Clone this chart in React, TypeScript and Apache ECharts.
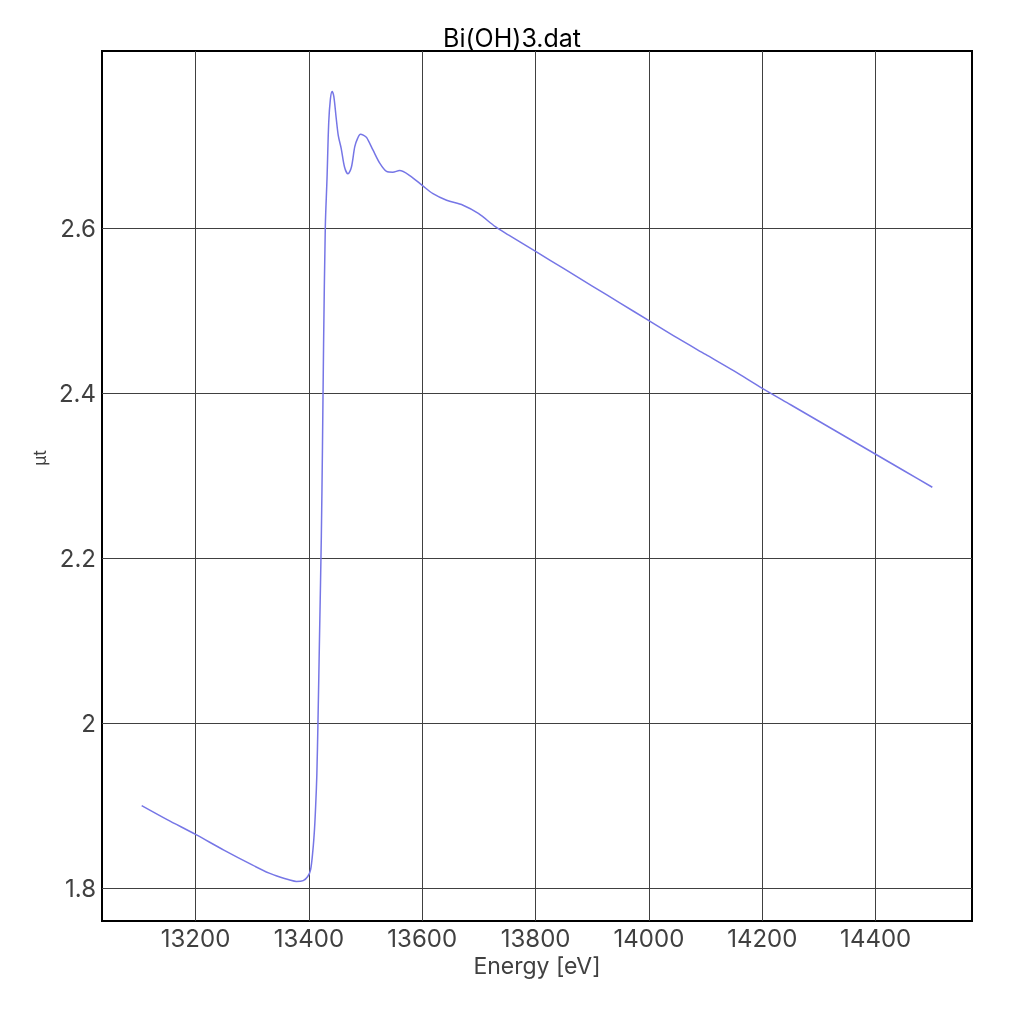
import { useRef, useEffect } from 'react';
import * as echarts from 'echarts';

// energy [eV] and absorption (μt)
const energy = [
    13105, 13150, 13200, 13250, 13300, 13330, 13350, 13365, 13378, 13390,
    13398, 13403, 13407, 13410, 13412, 13414, 13416, 13419, 13422, 13424,
    13426, 13429, 13432, 13435, 13438, 13441, 13444, 13448, 13452, 13457,
    13463, 13469, 13475, 13481, 13486, 13491, 13496, 13502, 13513, 13525,
    13537, 13548, 13560, 13578, 13600, 13619, 13643, 13672, 13699, 13729,
    13752, 13800, 13850, 13900, 13950, 14000, 14050, 14100, 14150, 14200,
    14250, 14300, 14350, 14400, 14450, 14500,
];
const mu = [
    1.900, 1.883, 1.865, 1.846, 1.828, 1.818, 1.813, 1.810, 1.808, 1.809,
    1.814, 1.822, 1.845, 1.872, 1.900, 1.936, 1.999, 2.113, 2.227, 2.335,
    2.462, 2.602, 2.660, 2.728, 2.757, 2.766, 2.760, 2.735, 2.712, 2.697,
    2.674, 2.666, 2.674, 2.699, 2.709, 2.714, 2.713, 2.710, 2.695, 2.679,
    2.669, 2.668, 2.670, 2.664, 2.652, 2.642, 2.634, 2.628, 2.618, 2.602,
    2.592, 2.572, 2.551, 2.530, 2.509, 2.488, 2.467, 2.447, 2.427, 2.406,
    2.386, 2.366, 2.346, 2.326, 2.306, 2.286,
];
const xTicks = [13200, 13400, 13600, 13800, 14000, 14200, 14400];
const yTicks = [1.8, 2.0, 2.2, 2.4, 2.6];

const XasChart = () => {
    const chartRef = useRef<HTMLDivElement>(null);

    useEffect(() => {
        if (!chartRef.current) return;
        const chart = echarts.init(chartRef.current, null, { renderer: 'svg' });
        const font = 'Inter';
        const options = {
            animation: false,
            textStyle: { fontFamily: font },
            title: {
                text: 'Bi(OH)3.dat',
                left: 'center',
                top: 20,
                textStyle: { fontSize: 25, fontWeight: 'normal', color: '#000', fontFamily: font },
            },
            grid: {
                left: 102,
                right: 52,
                top: 51,
                bottom: 103,
                show: true,
                borderColor: '#000',
                borderWidth: 2,
                backgroundColor: '#fff',
            },
            xAxis: {
                type: 'value',
                min: 13035,
                max: 14570,
                name: 'Energy [eV]',
                nameLocation: 'middle',
                nameGap: 33,
                nameTextStyle: { fontSize: 23, color: '#404040' },
                axisLine: { show: false },
                axisTick: { show: false, customValues: xTicks },
                axisLabel: {
                    customValues: xTicks,
                    fontSize: 24,
                    color: '#404040',
                    margin: 5,
                    formatter: (v: number) => String(v),
                },
                splitLine: { show: true, lineStyle: { color: '#404040', width: 1 } },
            },
            yAxis: {
                type: 'value',
                min: 1.76,
                max: 2.815,
                name: 'μt',
                nameLocation: 'middle',
                nameGap: 50,
                nameTextStyle: { fontSize: 17, color: '#404040', padding: [0, 0, 0, 56] },
                axisLine: { show: false },
                axisTick: { show: false, customValues: yTicks },
                axisLabel: {
                    customValues: yTicks,
                    fontSize: 24,
                    color: '#404040',
                    margin: 6,
                    formatter: (v: number) => String(Math.round(v * 10) / 10),
                },
                splitLine: { show: true, lineStyle: { color: '#404040', width: 1 } },
            },
            series: [
                {
                    type: 'line',
                    data: energy.map((e, i) => [e, mu[i]]),
                    showSymbol: false,
                    smooth: 0.3,
                    lineStyle: { color: '#7676e6', width: 1.5 },
                },
            ],
        };
        chart.setOption(options);

        return () => {
            chart.dispose();
        };
    }, []);

    return <div ref={chartRef} style={{ position: 'fixed', left: 0, top: 0, width: 1024, height: 1024 }} />;
};

export default function App() {
    return <XasChart />;
}
